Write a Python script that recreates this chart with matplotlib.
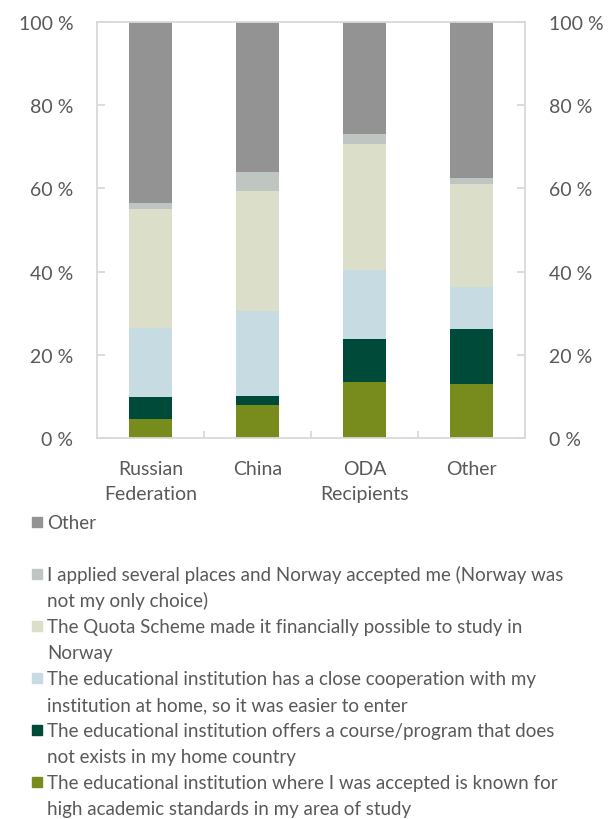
import matplotlib
matplotlib.use("Agg")
import matplotlib.pyplot as plt
from matplotlib.patches import Rectangle
from matplotlib.ticker import MultipleLocator, FixedLocator
import numpy as np

plt.rcParams['font.family'] = ['Lato', 'DejaVu Sans']

categories = ["Russian\nFederation", "China", "ODA\nRecipients", "Other"]

# stacked segments, bottom to top (percent)
high_academic = [4.6, 7.9, 13.4, 13.1]
course_not_home = [5.3, 2.2, 10.3, 13.2]
cooperation = [16.6, 20.4, 16.8, 10.1]
quota_scheme = [28.5, 28.9, 30.1, 24.7]
applied_several = [1.4, 4.6, 2.5, 1.4]
other = [43.6, 36.0, 26.9, 37.5]

series = [high_academic, course_not_home, cooperation, quota_scheme, applied_several, other]
colors = ["#788c1e", "#004a3a", "#c7dbe3", "#dbdec8", "#bfc6c1", "#939393"]
labels = [
    "The educational institution where I was accepted is known for\nhigh academic standards in my area of study",
    "The educational institution offers a course/program that does\nnot exists in my home country",
    "The educational institution has a close cooperation with my\ninstitution at home, so it was easier to enter",
    "The Quota Scheme made it financially possible to study in\nNorway",
    "I applied several places and Norway accepted me (Norway was\nnot my only choice)",
    "Other",
]

text_color = "#595959"
spine_color = "#d9d9d9"

fig = plt.figure(figsize=(6.13, 8.2), dpi=100)
ax = fig.add_axes([97/613, 1-439/820, 428/613, 416/820])

x = np.arange(len(categories))
bottom = np.zeros(len(categories))
for vals, c in zip(series, colors):
    ax.bar(x, vals, width=0.4, bottom=bottom, color=c, edgecolor='none', zorder=2)
    bottom += np.array(vals)

ax.set_xlim(-0.5, len(categories) - 0.5)
ax.set_ylim(0, 100)
ax.set_yticks(np.arange(0, 101, 20))
ax.set_yticklabels([f"{int(v)} %" for v in np.arange(0, 101, 20)])
ax.set_xticks(x)
ax.set_xticklabels(categories, linespacing=1.6)
ax.xaxis.set_minor_locator(FixedLocator([0.5, 1.5, 2.5]))

for s in ax.spines.values():
    s.set_color(spine_color)
    s.set_linewidth(1.3)

ax.tick_params(axis='y', which='major', direction='in', length=6, width=1.3,
               color=spine_color, left=True, right=True, labelleft=True,
               labelright=True, labelsize=14, labelcolor=text_color, pad=17)
ax.tick_params(axis='x', which='major', length=0, labelsize=14,
               labelcolor=text_color, pad=15.5)
ax.tick_params(axis='x', which='minor', direction='in', length=5, width=1.3,
               color=spine_color)

# legend (manual, Excel style)
leg_order = list(range(len(series)))[::-1]  # Other first
y0 = 523
slot = 52
pitch = 26
for i, idx in enumerate(leg_order):
    yc = y0 + i * slot
    fig.patches.append(Rectangle((32/613, 1-(yc+5)/820), 10/613, 10/820,
                                 transform=fig.transFigure, color=colors[idx],
                                 figure=fig))
    for k, line in enumerate(labels[idx].split("\n")):
        fig.text(47/613, 1-(yc + 6 + k * pitch)/820, line, ha='left',
                 va='baseline', fontsize=13.5, color=text_color)

fig.savefig("out.png", dpi=100)
